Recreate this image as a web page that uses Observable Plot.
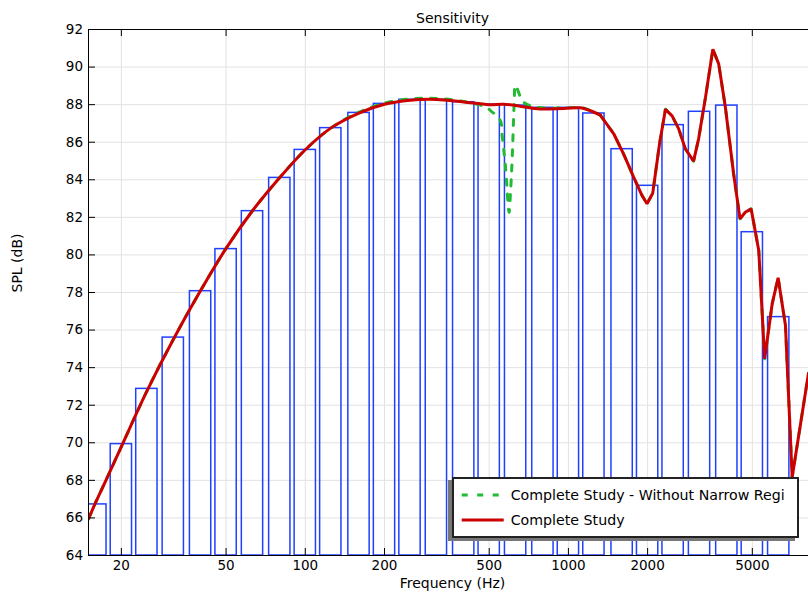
<!DOCTYPE html>
<html><head><meta charset="utf-8">
<script src="https://cdn.jsdelivr.net/npm/d3@7"></script>
<script src="https://cdn.jsdelivr.net/npm/@observablehq/plot@0.6"></script>
<style>
body{margin:0;background:#fff;font-family:"DejaVu Sans",sans-serif;}
#wrap{position:relative;width:808px;height:595px;overflow:hidden;background:#fff;}
#legend{position:absolute;left:452px;top:477px;width:347px;height:61px;box-sizing:border-box;border:2px solid #222;background:#fff;box-shadow:-4px 3px 0 #777;}
#legend svg{position:absolute;left:0;top:0;}
</style></head><body><div id="wrap"></div>
<script>
// Third-octave band bars
const bandCenters = [16,20,25,31.5,40,50,63,80,100,125,160,200,250,315,400,500,630,800,1000,1250,1600,2000,2500,3150,4000,5000,6300];
const bandLevels  = [66.72,69.93,72.87,75.6,78.07,80.31,82.33,84.10,85.59,86.75,87.56,88.04,88.26,88.26,88.13,88.0,87.95,87.83,87.83,87.53,85.63,83.68,86.91,87.62,87.95,81.21,76.69];

// "Complete Study"
const studyFreq = [15,16,17.4,20,25,31.5,40,50,63,80,100,125,160,200,250,315,400,500,567,656,760,960,1111,1206,1320,1487,1620,1770,1905,1990,2092,2220,2338,2478,2625,2782,2990,3125,3320,3540,3725,3950,4245,4490,4700,4950,5290,5570,5950,6266,6683,7086,8175];
const studySPL  = [65.95,66.85,67.95,69.8,72.75,75.5,78.1,80.35,82.35,84.12,85.6,86.75,87.55,88.02,88.24,88.28,88.14,88.0,88.02,87.92,87.78,87.8,87.83,87.69,87.45,86.45,85.38,84.14,83.16,82.72,83.29,85.92,87.75,87.4,86.71,85.65,84.99,86.18,88.4,90.95,90.17,87.86,84.32,81.92,82.27,82.45,80.24,74.47,77.4,78.78,76.24,68.17,73.7];

// "Complete Study - Without Narrow Region"
const narrowFreq = [15,16,17.4,20,25,31.5,40,50,63,80,100,125,160,200,250,315,400,456,497,505,551,560,576,595,602,611,623,629,676,760,960,1111,1206,1320,1487,1620,1770,1905,1990,2092,2220,2338,2478,2625,2782,2990,3125,3320,3540,3725,3950,4245,4490,4700,4950,5290,5570,5950,6266,6683,7086,8175];
const narrowSPL  = [65.95,66.85,67.95,69.8,72.75,75.5,78.1,80.35,82.35,84.12,85.6,86.75,87.6,88.08,88.3,88.33,88.17,88.0,87.78,87.69,87.16,86.36,84.76,82.27,83.25,85.03,88.22,89.02,88.13,87.86,87.82,87.85,87.7,87.45,86.45,85.38,84.14,83.16,82.72,83.29,85.92,87.75,87.4,86.71,85.65,84.99,86.18,88.4,90.95,90.17,87.86,84.32,81.92,82.27,82.45,80.24,74.47,77.4,78.78,76.24,68.17,73.7];

const xTicks = [20,50,100,200,500,1000,2000,5000];
const yTicks = [64,66,68,70,72,74,76,78,80,82,84,86,88,90,92];
const xDomain = [15, 8175];
const yDomain = [64, 92];

const bands = bandCenters.map((f,i)=>({f, v: bandLevels[i]}));
const study = studyFreq.map((f,i)=>({f, v: studySPL[i]}));
const narrow = narrowFreq.map((f,i)=>({f, v: narrowSPL[i]}));
const half = Math.pow(10, 0.0405);
const split = 1320;

const W = 808, H = 595, mt = 29, mb = 40, ml = 88, mr = 0;
const fw = W - ml - mr, fh = H - mt - mb;
const blue = "#2040ff", red = "#cc0000", green = "#22bb33";

const chart = Plot.plot({
  width: W, height: H,
  marginTop: mt, marginBottom: mb, marginLeft: ml, marginRight: mr,
  style: {fontFamily: "DejaVu Sans", fontSize: "13.5px", background: "white", color: "black", overflow: "visible"},
  x: {type: "log", domain: xDomain, axis: null},
  y: {domain: yDomain, ticks: yTicks, tickSize: 0, tickPadding: 5.5, label: null},
  marks: [
    Plot.ruleY(yTicks, {y: d => d, stroke: "#e2e2e2"}),
    Plot.ruleX(xTicks, {x: d => d, stroke: "#e2e2e2"}),
    Plot.rect(bands, {x1: d => d.f / half, x2: d => d.f * half, y1: yDomain[0], y2: "v", stroke: blue, strokeWidth: 1.5, fill: "none", clip: true}),
    Plot.line(narrow.filter(d => d.f <= split), {x: "f", y: "v", curve: "catmull-rom", stroke: green, strokeWidth: 3, strokeDasharray: "6,9", clip: true}),
    Plot.line(narrow.filter(d => d.f >= split), {x: "f", y: "v", stroke: green, strokeWidth: 3, strokeDasharray: "6,9", clip: true}),
    Plot.line(study.filter(d => d.f <= split), {x: "f", y: "v", curve: "catmull-rom", stroke: red, strokeWidth: 3, clip: true}),
    Plot.line(study.filter(d => d.f >= split), {x: "f", y: "v", stroke: red, strokeWidth: 3, strokeLinejoin: "miter", clip: true}),
    Plot.ruleY([yDomain[0], yDomain[1]], {y: d => d, stroke: "black"}),
    Plot.ruleX([xDomain[0]], {x: d => d, stroke: "black"}),
    Plot.tickX(xTicks, {x: d => d, stroke: "black", insetTop: fh - 7}),
    Plot.tickX(xTicks, {x: d => d, stroke: "black", insetBottom: fh - 7}),
    Plot.tickY(yTicks, {y: d => d, stroke: "black", insetRight: fw - 7}),
    Plot.text(xTicks, {x: d => d, text: d => String(d), frameAnchor: "bottom", dy: 14, fontSize: 13.5}),
    Plot.text(["Sensitivity"], {text: d => d, frameAnchor: "top", dy: -16, dx: 4, fontSize: 14}),
    Plot.text(["Frequency (Hz)"], {text: d => d, frameAnchor: "bottom", dy: 32, dx: 4, fontSize: 14}),
    Plot.text(["SPL (dB)"], {text: d => d, frameAnchor: "left", dx: -71, rotate: -90, fontSize: 14})
  ]
});
const wrap = document.getElementById("wrap");
wrap.appendChild(chart);

// Legend
const legendItems = [
  {label: "Complete Study - Without Narrow Regi", color: green, dash: "6,9.5", len: 37},
  {label: "Complete Study", color: red, dash: null, len: 42}
];
const lg = document.createElement("div");
lg.id = "legend";
const ns = "http://www.w3.org/2000/svg";
const svg = document.createElementNS(ns, "svg");
svg.setAttribute("width", 343); svg.setAttribute("height", 57);
legendItems.forEach((it, i) => {
  const yy = 16 + i * 25;
  const ln = document.createElementNS(ns, "line");
  ln.setAttribute("x1", 7.7); ln.setAttribute("x2", 7.7 + it.len);
  ln.setAttribute("y1", yy); ln.setAttribute("y2", yy);
  ln.setAttribute("stroke", it.color); ln.setAttribute("stroke-width", 3);
  if (it.dash) ln.setAttribute("stroke-dasharray", it.dash);
  svg.appendChild(ln);
  const tx = document.createElementNS(ns, "text");
  tx.setAttribute("x", 56.7); tx.setAttribute("y", yy);
  tx.setAttribute("dominant-baseline", "central");
  tx.setAttribute("font-family", "DejaVu Sans");
  tx.setAttribute("font-size", "14.2px");
  tx.textContent = it.label;
  svg.appendChild(tx);
});
lg.appendChild(svg);
wrap.appendChild(lg);
</script></body></html>
